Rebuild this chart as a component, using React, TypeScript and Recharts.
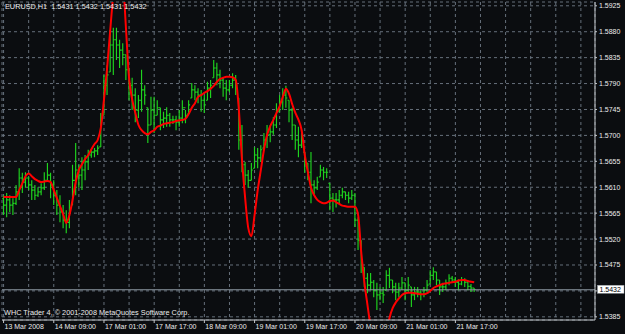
import React from 'react';
import {
  ComposedChart,
  Bar,
  Line,
  XAxis,
  YAxis,
  CartesianGrid,
  ReferenceLine,
} from 'recharts';

// EURUSD H1 bars, 13 Mar 2008 17:00 .. 21 Mar 2008 23:00
const OPEN = [
  1.5590, 1.5579, 1.5588, 1.5579, 1.5582, 1.5602, 1.5626, 1.5619, 1.5626, 1.5614,
  1.5605, 1.5596, 1.5602, 1.5609, 1.5622, 1.5631, 1.5614, 1.5596, 1.5579, 1.5567,
  1.5553, 1.5549, 1.5579, 1.5622, 1.5640, 1.5631, 1.5640, 1.5654, 1.5666, 1.5671,
  1.5673, 1.5680, 1.5735, 1.5787, 1.5810, 1.5857, 1.5866, 1.5857, 1.5848, 1.5840,
  1.5814, 1.5787, 1.5770, 1.5744, 1.5761, 1.5779, 1.5748, 1.5718, 1.5744, 1.5735,
  1.5748, 1.5727, 1.5730, 1.5735, 1.5727, 1.5727, 1.5723, 1.5730, 1.5748, 1.5737,
  1.5765, 1.5779, 1.5775, 1.5770, 1.5761, 1.5761, 1.5782, 1.5800, 1.5817, 1.5805,
  1.5796, 1.5782, 1.5779, 1.5787, 1.5796, 1.5765, 1.5692, 1.5649, 1.5631, 1.5622,
  1.5643, 1.5666, 1.5661, 1.5678, 1.5692, 1.5701, 1.5706, 1.5718, 1.5741, 1.5758,
  1.5770, 1.5761, 1.5744, 1.5718, 1.5692, 1.5683, 1.5671, 1.5652, 1.5636, 1.5614,
  1.5609, 1.5628, 1.5640, 1.5636, 1.5617, 1.5591, 1.5588, 1.5588, 1.5596, 1.5602,
  1.5596, 1.5591, 1.5596, 1.5553, 1.5518, 1.5471, 1.5452, 1.5440, 1.5445, 1.5431,
  1.5423, 1.5426, 1.5431, 1.5457, 1.5449, 1.5437, 1.5428, 1.5435, 1.5444, 1.5431,
  1.5437, 1.5423, 1.5428, 1.5428, 1.5424, 1.5431, 1.5442, 1.5457, 1.5463, 1.5449,
  1.5437, 1.5437, 1.5444, 1.5452, 1.5449, 1.5445, 1.5442, 1.5449, 1.5445, 1.5438,
  1.5435,
];

const HIGH = [
  1.5596, 1.5600, 1.5596, 1.5591, 1.5614, 1.5643, 1.5635, 1.5636, 1.5628, 1.5622,
  1.5614, 1.5610, 1.5617, 1.5636, 1.5652, 1.5635, 1.5622, 1.5605, 1.5596, 1.5579,
  1.5570, 1.5588, 1.5649, 1.5687, 1.5649, 1.5662, 1.5666, 1.5675, 1.5676, 1.5678,
  1.5683, 1.5739, 1.5805, 1.5822, 1.5883, 1.5887, 1.5887, 1.5866, 1.5860, 1.5840,
  1.5817, 1.5800, 1.5782, 1.5770, 1.5814, 1.5787, 1.5748, 1.5767, 1.5767, 1.5761,
  1.5748, 1.5741, 1.5749, 1.5739, 1.5734, 1.5734, 1.5744, 1.5761, 1.5744, 1.5761,
  1.5791, 1.5787, 1.5782, 1.5779, 1.5770, 1.5793, 1.5796, 1.5831, 1.5826, 1.5814,
  1.5801, 1.5796, 1.5796, 1.5808, 1.5805, 1.5765, 1.5718, 1.5654, 1.5640, 1.5652,
  1.5680, 1.5678, 1.5683, 1.5704, 1.5718, 1.5718, 1.5732, 1.5756, 1.5770, 1.5782,
  1.5786, 1.5761, 1.5748, 1.5718, 1.5715, 1.5709, 1.5671, 1.5652, 1.5671, 1.5622,
  1.5628, 1.5649, 1.5645, 1.5643, 1.5617, 1.5600, 1.5600, 1.5605, 1.5609, 1.5602,
  1.5602, 1.5605, 1.5600, 1.5558, 1.5518, 1.5471, 1.5461, 1.5461, 1.5449, 1.5444,
  1.5437, 1.5437, 1.5466, 1.5470, 1.5449, 1.5444, 1.5444, 1.5454, 1.5444, 1.5454,
  1.5437, 1.5437, 1.5437, 1.5431, 1.5437, 1.5449, 1.5466, 1.5471, 1.5463, 1.5449,
  1.5444, 1.5450, 1.5459, 1.5456, 1.5454, 1.5450, 1.5454, 1.5452, 1.5449, 1.5442,
  1.5435,
];

const LOW = [
  1.5562, 1.5558, 1.5567, 1.5562, 1.5579, 1.5588, 1.5600, 1.5609, 1.5605, 1.5588,
  1.5588, 1.5593, 1.5596, 1.5605, 1.5619, 1.5591, 1.5579, 1.5562, 1.5549, 1.5539,
  1.5530, 1.5539, 1.5579, 1.5596, 1.5609, 1.5605, 1.5622, 1.5640, 1.5661, 1.5662,
  1.5666, 1.5680, 1.5735, 1.5770, 1.5810, 1.5805, 1.5831, 1.5817, 1.5822, 1.5796,
  1.5761, 1.5744, 1.5723, 1.5730, 1.5741, 1.5753, 1.5687, 1.5718, 1.5704, 1.5735,
  1.5709, 1.5713, 1.5715, 1.5715, 1.5720, 1.5709, 1.5715, 1.5721, 1.5721, 1.5737,
  1.5765, 1.5761, 1.5756, 1.5741, 1.5739, 1.5761, 1.5765, 1.5800, 1.5787, 1.5782,
  1.5767, 1.5761, 1.5775, 1.5782, 1.5770, 1.5675, 1.5636, 1.5614, 1.5609, 1.5622,
  1.5643, 1.5643, 1.5654, 1.5678, 1.5678, 1.5688, 1.5701, 1.5713, 1.5741, 1.5744,
  1.5748, 1.5723, 1.5692, 1.5675, 1.5662, 1.5678, 1.5635, 1.5622, 1.5582, 1.5598,
  1.5605, 1.5628, 1.5622, 1.5626, 1.5570, 1.5567, 1.5575, 1.5582, 1.5591, 1.5588,
  1.5582, 1.5588, 1.5541, 1.5501, 1.5461, 1.5437, 1.5426, 1.5431, 1.5419, 1.5397,
  1.5414, 1.5409, 1.5431, 1.5435, 1.5426, 1.5414, 1.5419, 1.5431, 1.5414, 1.5428,
  1.5402, 1.5414, 1.5419, 1.5414, 1.5419, 1.5428, 1.5442, 1.5449, 1.5440, 1.5423,
  1.5428, 1.5431, 1.5440, 1.5444, 1.5437, 1.5431, 1.5440, 1.5437, 1.5431, 1.5428,
  1.5428,
];

const CLOSE = [
  1.5579, 1.5588, 1.5579, 1.5582, 1.5602, 1.5626, 1.5619, 1.5626, 1.5614, 1.5605,
  1.5596, 1.5602, 1.5609, 1.5622, 1.5631, 1.5614, 1.5596, 1.5579, 1.5567, 1.5553,
  1.5549, 1.5570, 1.5622, 1.5640, 1.5631, 1.5640, 1.5654, 1.5666, 1.5671, 1.5673,
  1.5678, 1.5727, 1.5787, 1.5805, 1.5857, 1.5866, 1.5857, 1.5848, 1.5840, 1.5814,
  1.5787, 1.5770, 1.5744, 1.5761, 1.5779, 1.5770, 1.5718, 1.5744, 1.5735, 1.5748,
  1.5727, 1.5730, 1.5735, 1.5727, 1.5727, 1.5723, 1.5730, 1.5748, 1.5735, 1.5753,
  1.5779, 1.5775, 1.5770, 1.5761, 1.5753, 1.5782, 1.5787, 1.5817, 1.5805, 1.5796,
  1.5782, 1.5779, 1.5787, 1.5796, 1.5787, 1.5692, 1.5649, 1.5631, 1.5622, 1.5640,
  1.5666, 1.5661, 1.5675, 1.5692, 1.5701, 1.5706, 1.5718, 1.5741, 1.5758, 1.5770,
  1.5765, 1.5744, 1.5718, 1.5692, 1.5683, 1.5692, 1.5654, 1.5636, 1.5614, 1.5609,
  1.5619, 1.5640, 1.5636, 1.5636, 1.5591, 1.5588, 1.5588, 1.5596, 1.5602, 1.5596,
  1.5591, 1.5596, 1.5553, 1.5518, 1.5475, 1.5452, 1.5440, 1.5445, 1.5431, 1.5423,
  1.5426, 1.5423, 1.5457, 1.5449, 1.5437, 1.5428, 1.5435, 1.5444, 1.5431, 1.5440,
  1.5423, 1.5428, 1.5428, 1.5424, 1.5431, 1.5440, 1.5457, 1.5463, 1.5449, 1.5437,
  1.5437, 1.5444, 1.5452, 1.5449, 1.5445, 1.5442, 1.5449, 1.5445, 1.5438, 1.5435,
  1.5432,
];

// red smoothed indicator line
const SMOOTH = [
  1.5593, 1.5593, 1.5593, 1.5593, 1.5593, 1.5605, 1.5617, 1.5629, 1.5634, 1.5629,
  1.5624, 1.5621, 1.5619, 1.5620, 1.5621, 1.5619, 1.5605, 1.5591, 1.5577, 1.5563,
  1.5548, 1.5562, 1.5588, 1.5619, 1.5640, 1.5650, 1.5659, 1.5666, 1.5676, 1.5685,
  1.5692, 1.5713, 1.5762, 1.5817, 1.5883, 1.5949, 1.6005, 1.6031, 1.5979, 1.5887,
  1.5800, 1.5762, 1.5739, 1.5718, 1.5709, 1.5704, 1.5702, 1.5706, 1.5709, 1.5715,
  1.5717, 1.5720, 1.5721, 1.5722, 1.5723, 1.5725, 1.5726, 1.5727, 1.5729, 1.5737,
  1.5748, 1.5756, 1.5767, 1.5770, 1.5774, 1.5777, 1.5781, 1.5786, 1.5793, 1.5798,
  1.5800, 1.5802, 1.5802, 1.5801, 1.5796, 1.5744, 1.5657, 1.5591, 1.5539, 1.5525,
  1.5562, 1.5605, 1.5640, 1.5675, 1.5701, 1.5716, 1.5727, 1.5739, 1.5751, 1.5767,
  1.5781, 1.5772, 1.5754, 1.5739, 1.5727, 1.5709, 1.5666, 1.5636, 1.5609, 1.5596,
  1.5588, 1.5584, 1.5582, 1.5583, 1.5586, 1.5587, 1.5584, 1.5581, 1.5578, 1.5577,
  1.5576, 1.5576, 1.5576, 1.5562, 1.5497, 1.5445, 1.5405, 1.5367, 1.5336, 1.5318,
  1.5313, 1.5324, 1.5353, 1.5383, 1.5400, 1.5410, 1.5417, 1.5423, 1.5426, 1.5427,
  1.5427, 1.5426, 1.5425, 1.5424, 1.5424, 1.5426, 1.5430, 1.5435, 1.5438, 1.5440,
  1.5442, 1.5443, 1.5444, 1.5445, 1.5446, 1.5448, 1.5449, 1.5449, 1.5447, 1.5446,
  1.5445,
];

const TIME_LABELS = [
  '13 Mar 2008', '14 Mar 09:00', '17 Mar 01:00', '17 Mar 17:00', '18 Mar 09:00',
  '19 Mar 01:00', '19 Mar 17:00', '20 Mar 09:00', '21 Mar 01:00', '21 Mar 17:00',
];
const LABEL_BARS = [0, 16, 32, 48, 64, 80, 96, 112, 128, 144];
const GRID_BARS = [
  0, 8, 16, 24, 32, 40, 48, 56, 64, 72, 80, 88, 96, 104, 112, 120, 128, 136, 144,
  152, 160, 168, 176, 184,
];
const PRICE_TICKS = [
  1.5385, 1.5430, 1.5475, 1.5520, 1.5565, 1.5610, 1.5655, 1.5700, 1.5745, 1.5790,
  1.5835, 1.5880, 1.5925,
];
const PRICE_DOMAIN = [1.53795, 1.59316];
const LAST_PRICE = 1.5432;
const SLOTS = 189; // bar slots visible across the window (rest is empty shift space)

const BG = '#0b0d10';
const FRAME = '#c4c8cc';
const GRID = '#66707b';
const BAR_COLOR = '#1fd41f';
const TEXT = '#ececec';
const FONT = '"Liberation Sans", Arial, sans-serif';

const data = Array.from({ length: SLOTS }, (_, i) =>
  i < CLOSE.length
    ? { i, open: OPEN[i], high: HIGH[i], low: LOW[i], close: CLOSE[i], ma: SMOOTH[i] }
    : { i }
);

const OhlcBar = (props: any) => {
  const { x, y, width, height, payload } = props;
  if (!payload || payload.high == null) return null;
  const top = Math.min(y, y + height);
  const h = Math.abs(height);
  const range = payload.high - payload.low || 1;
  const cx = x + width / 2;
  const yOpen = top + ((payload.high - payload.open) / range) * h;
  const yClose = top + ((payload.high - payload.close) / range) * h;
  return (
    <g stroke={BAR_COLOR} strokeWidth={1.15}>
      <line x1={cx} x2={cx} y1={top} y2={top + Math.max(h, 1)} />
      <line x1={cx - 1.5} x2={cx} y1={yOpen} y2={yOpen} />
      <line x1={cx} x2={cx + 1.5} y1={yClose} y2={yClose} />
    </g>
  );
};

const TimeTick = (props: any) => {
  const { x, y, payload } = props;
  const idx = LABEL_BARS.indexOf(payload.value);
  if (idx < 0) return null;
  return (
    <g>
      <line x1={x} x2={x} y1={y} y2={y + 3} stroke={FRAME} />
      <text x={x + 1} y={y + 8.5} fill={TEXT} fontSize={7} fontFamily={FONT}>
        {TIME_LABELS[idx]}
      </text>
    </g>
  );
};

const PriceTick = (props: any) => {
  const { x, y, payload } = props;
  if (Math.abs(payload.value - LAST_PRICE) < 0.0004) return null;
  return (
    <text x={x} y={y + 2.5} fill={TEXT} fontSize={7} fontFamily={FONT}>
      {payload.value.toFixed(4)}
    </text>
  );
};

const PriceBox = (props: any) => {
  const vb = props.viewBox;
  if (!vb) return null;
  const bx = vb.x + vb.width + 2.5;
  return (
    <g>
      <rect x={bx} y={vb.y - 4.5} width={26.5} height={8} fill="#ffffff" stroke="#9aa0a6" strokeWidth={0.5} />
      <text x={bx + 2} y={vb.y + 2.4} fill="#000000" fontSize={7} fontFamily={FONT}>
        {LAST_PRICE.toFixed(4)}
      </text>
    </g>
  );
};

export default function App() {
  return (
    <div style={{ position: 'relative', width: 625, height: 334, background: BG, overflow: 'hidden' }}>
      <style>{'body{margin:0;background:#0b0d10}'}</style>
      <ComposedChart
        width={625}
        height={334}
        data={data}
        margin={{ top: 2, right: 0, bottom: 0, left: 2 }}
        barCategoryGap={0}
      >
        <CartesianGrid stroke={GRID} strokeDasharray="3 3" />
        <XAxis
          dataKey="i"
          type="category"
          ticks={GRID_BARS}
          interval={0}
          height={14}
          tickLine={false}
          tickSize={0}
          tickMargin={0}
          axisLine={{ stroke: FRAME }}
          tick={<TimeTick />}
        />
        <XAxis
          xAxisId="top"
          dataKey="i"
          orientation="top"
          height={0}
          tick={false}
          tickLine={false}
          axisLine={{ stroke: FRAME }}
        />
        <YAxis
          orientation="right"
          domain={PRICE_DOMAIN}
          allowDataOverflow
          ticks={PRICE_TICKS}
          interval={0}
          width={30}
          tickSize={2}
          tickMargin={2}
          tickLine={{ stroke: FRAME }}
          axisLine={{ stroke: FRAME }}
          tick={<PriceTick />}
        />
        <YAxis
          yAxisId="left"
          orientation="left"
          domain={PRICE_DOMAIN}
          width={0}
          tick={false}
          tickLine={false}
          axisLine={{ stroke: FRAME }}
        />
        <ReferenceLine y={LAST_PRICE} stroke="#8d97a1" strokeWidth={1} label={<PriceBox />} />
        <Bar
          dataKey={(d: any) => (d.high == null ? null : [d.low, d.high])}
          shape={<OhlcBar />}
          isAnimationActive={false}
        />
        <Line
          type="monotone"
          dataKey="ma"
          stroke="#ff0000"
          strokeWidth={2}
          dot={false}
          activeDot={false}
          isAnimationActive={false}
        />
      </ComposedChart>
      <div
        style={{
          position: 'absolute',
          left: 5,
          top: 3,
          fontSize: 7.3,
          lineHeight: '8px',
          fontFamily: FONT,
          color: TEXT,
          whiteSpace: 'pre',
        }}
      >
        {'EURUSD,H1  1.5431 1.5432 1.5431 1.5432'}
      </div>
      <div
        style={{
          position: 'absolute',
          left: 4,
          top: 309,
          fontSize: 7.3,
          lineHeight: '8px',
          fontFamily: FONT,
          color: TEXT,
          whiteSpace: 'pre',
        }}
      >
        {'WHC Trader 4, \u00a9 2001-2008 MetaQuotes Software Corp.'}
      </div>
    </div>
  );
}
